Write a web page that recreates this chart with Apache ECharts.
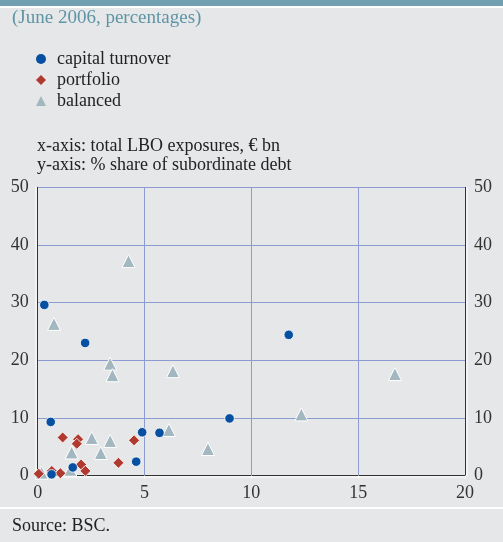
<!DOCTYPE html>
<html>
<head>
<meta charset="utf-8">
<script src="https://cdn.jsdelivr.net/npm/echarts@6/dist/echarts.min.js"></script>
<style>
html,body{margin:0;padding:0;background:#e6e7e9;}
#c{width:503px;height:542px;}
</style>
</head>
<body>
<div id="c"></div>
<script>
const seriesNames = ['capital turnover', 'portfolio', 'balanced'];
const capitalTurnover = [[0.31,29.6],[2.22,23.0],[0.61,9.3],[0.65,0.2],[1.64,1.4],[4.61,2.4],[4.89,7.5],[5.7,7.4],[8.98,9.9],[11.75,24.4]];
const portfolio = [[0.05,0.3],[1.17,6.6],[1.89,6.3],[1.83,5.5],[0.66,0.8],[1.06,0.4],[2.03,1.9],[2.23,0.8],[3.78,2.2],[4.51,6.1]];
const balanced = [[0.18,0.5],[0.76,26.3],[4.25,37.2],[3.39,19.4],[3.5,17.4],[6.33,18.1],[1.59,4.0],[2.53,6.5],[3.39,6.0],[2.95,3.9],[6.14,7.9],[1.53,1.0],[7.97,4.6],[12.34,10.6],[16.72,17.6]];
const xTicks = [0,5,10,15,20];
const yTicks = [0,10,20,30,40,50];

const FONT = '"Liberation Serif", "DejaVu Serif", serif';
const chart = echarts.init(document.getElementById('c'), null, {renderer:'canvas'});
const axisLab = {color:'#333', fontFamily:FONT, fontSize:18};
const yAxisBase = (pos, offX) => ({
  type:'value', min:yTicks[0], max:yTicks[yTicks.length-1], interval:10, position:pos,
  axisLine:{show:true, lineStyle:{color:'#333', width:1, shadowColor:'#fff', shadowOffsetX:offX, shadowBlur:0}},
  axisTick:{show:false},
  axisLabel:Object.assign({margin:9}, axisLab),
  splitLine:{show:pos==='left', lineStyle:{color:'#8c9bd0', width:1}}
});
chart.setOption({
  backgroundColor:'#e6e7e9',
  animation:false,
  graphic:[
    {type:'rect', shape:{x:0,y:0,width:503,height:6}, style:{fill:'#72a0b0'}},
    {type:'rect', shape:{x:0,y:6,width:503,height:2}, style:{fill:'#ffffff'}},
    {type:'rect', shape:{x:0,y:507,width:503,height:2}, style:{fill:'#ffffff'}},
    {type:'text', left:12, top:9, style:{text:'(June 2006, percentages)', fill:'#5e95a5', font:'19px '+FONT}},
    {type:'text', left:37, top:137, style:{text:'x-axis: total LBO exposures, € bn', fill:'#222', font:'18px '+FONT}},
    {type:'text', left:37, top:156, style:{text:'y-axis: % share of subordinate debt', fill:'#222', font:'18px '+FONT}},
    {type:'text', left:12, top:517, style:{text:'Source: BSC.', fill:'#222', font:'18px '+FONT}}
  ],
  legend:{
    orient:'vertical', left:36, top:50, padding:0, itemGap:3, itemWidth:10, itemHeight:10,
    textStyle:{color:'#222', fontFamily:FONT, fontSize:18, padding:[0,0,0,6]},
    data:[
      {name:seriesNames[0], icon:'circle', itemStyle:{borderWidth:0}},
      {name:seriesNames[1], icon:'diamond', itemStyle:{borderWidth:0}},
      {name:seriesNames[2], icon:'triangle', itemStyle:{borderWidth:0}}
    ]
  },
  grid:{left:37.7, right:38, top:187.3, bottom:66.5},
  xAxis:{
    type:'value', min:xTicks[0], max:xTicks[xTicks.length-1], interval:5,
    axisLine:{show:true, lineStyle:{color:'#333', width:1, shadowColor:'#fff', shadowOffsetY:1.5, shadowBlur:0}},
    axisTick:{show:true, length:3, lineStyle:{color:'#fff', width:1}},
    axisLabel:Object.assign({margin:9}, axisLab),
    splitLine:{show:true, lineStyle:{color:'#8c9bd0', width:1}}
  },
  yAxis:[yAxisBase('left',-1.5), yAxisBase('right',1.5)],
  series:[
    {name:seriesNames[2], type:'scatter', symbol:'triangle', symbolSize:13, data:balanced, z:3, clip:false,
      itemStyle:{color:'#a2b7bf', borderColor:'#fff', borderWidth:1, opacity:1}},
    {name:seriesNames[1], type:'scatter', symbol:'diamond', symbolSize:11, data:portfolio, z:4, clip:false,
      itemStyle:{color:'#b13a30', borderColor:'#fff', borderWidth:0.8, opacity:1}},
    {name:seriesNames[0], type:'scatter', symbol:'circle', symbolSize:9.5, data:capitalTurnover, z:5, clip:false,
      itemStyle:{color:'#0650a2', borderColor:'#fff', borderWidth:0.8, opacity:1}}
  ]
});
</script>
</body>
</html>
